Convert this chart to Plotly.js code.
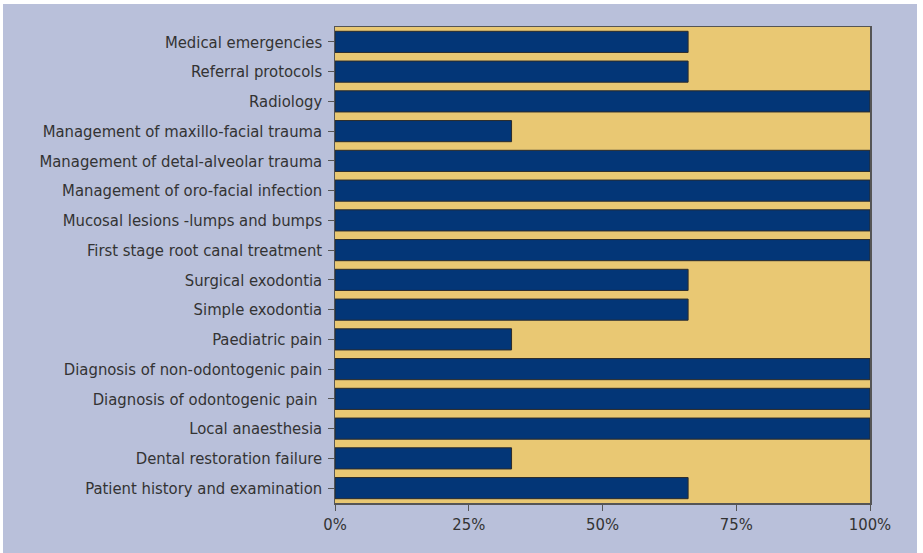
<!DOCTYPE html>
<html>
<head>
<meta charset="utf-8">
<script src="https://cdn.plot.ly/plotly-3.0.1.min.js"></script>
<style>
  html, body { margin: 0; padding: 0; background: #ffffff; }
  #chart { position: absolute; left: 3px; top: 4px; width: 914px; height: 549px; }
</style>
</head>
<body>
<div id="chart"></div>
<script>
const categories = [
  "Medical emergencies",
  "Referral protocols",
  "Radiology",
  "Management of maxillo-facial trauma",
  "Management of detal-alveolar trauma",
  "Management of oro-facial infection",
  "Mucosal lesions -lumps and bumps",
  "First stage root canal treatment",
  "Surgical exodontia",
  "Simple exodontia",
  "Paediatric pain",
  "Diagnosis of non-odontogenic pain",
  "Diagnosis of odontogenic pain ",
  "Local anaesthesia",
  "Dental restoration failure",
  "Patient history and examination"
];
const values = [66, 66, 100, 33, 100, 100, 100, 100, 66, 66, 33, 100, 100, 100, 33, 66];
const xTickValues = [0, 25, 50, 75, 100];
const xTickLabels = ["0%", "25%", "50%", "75%", "100%"];

const font = { family: "'Liberation Sans Narrow', 'DejaVu Sans Condensed', 'Liberation Sans', sans-serif", size: 16.5, color: "#333333" };

Plotly.newPlot("chart", [{
  type: "bar",
  orientation: "h",
  y: categories,
  x: values,
  marker: { color: "#033677", line: { color: "#2b2b2b", width: 1 } },
  hoverinfo: "x+y"
}], {
  width: 914,
  height: 549,
  margin: { l: 332, r: 47, t: 23, b: 50 },
  paper_bgcolor: "#b9c0da",
  plot_bgcolor: "#e9c873",
  bargap: 0.29,
  showlegend: false,
  font: font,
  xaxis: {
    range: [0, 100],
    tickvals: xTickValues,
    ticktext: xTickLabels,
    showgrid: false,
    zeroline: false,
    showline: true,
    linecolor: "#555555",
    linewidth: 1.5,
    mirror: true,
    ticks: "outside",
    ticklen: 6,
    tickcolor: "#555555",
    tickfont: font
  },
  yaxis: {
    autorange: "reversed",
    showgrid: false,
    showline: true,
    linecolor: "#555555",
    linewidth: 1.5,
    mirror: true,
    ticks: "outside",
    ticklen: 6,
    tickcolor: "#555555",
    ticklabelstandoff: 2,
    tickfont: font
  }
}, { displayModeBar: false, staticPlot: true });
</script>
</body>
</html>
